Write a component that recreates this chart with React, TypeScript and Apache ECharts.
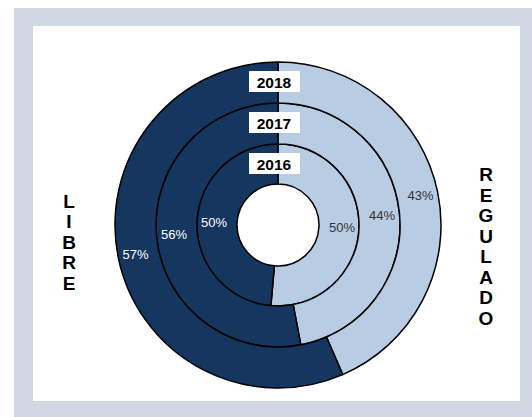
import React, { useEffect, useRef } from "react";
import * as echarts from "echarts";

const years = ["2016", "2017", "2018"];
const categories = ["REGULADO", "LIBRE"];
// drawn shares
const reguladoShare = [51.4, 47, 43.5];
const libreShare = [48.6, 53, 56.5];
// printed labels
const reguladoLabels = ["50%", "44%", "43%"];
const libreLabels = ["50%", "56%", "57%"];

const DARK = "#15365e";
const LIGHT = "#b8cce4";
const FRAME = "#d0d8e4";

const radii: [number, number][] = [
  [41, 81],
  [81, 122],
  [122, 163],
];

export default function App() {
  const ref = useRef<HTMLDivElement>(null);
  useEffect(() => {
    if (!ref.current) return;
    const chart = echarts.init(ref.current, null, { renderer: "svg" });
    const cx = 278;
    const cy = 225;
    const series = years.map((y, i) => ({
      type: "pie",
      name: y,
      center: [cx, cy],
      radius: radii[i],
      startAngle: 90,
      clockwise: true,
      silent: true,
      avoidLabelOverlap: false,
      label: {
        show: true,
        position: "inside",
        fontFamily: "Liberation Sans, Arial, sans-serif",
        fontSize: 13,
        formatter: (p: any) =>
          p.dataIndex === 0 ? reguladoLabels[i] : libreLabels[i],
      },
      labelLine: { show: false },
      itemStyle: { borderColor: "#000", borderWidth: 1.5 },
      data: [
        {
          name: categories[0],
          value: reguladoShare[i],
          itemStyle: { color: LIGHT },
          label: { color: "#333" },
        },
        {
          name: categories[1],
          value: libreShare[i],
          itemStyle: { color: DARK },
          label: { color: "#fff" },
        },
      ],
    }));
    const boxY = [163.5, 122.5, 81.5];
    const yearGraphics = years.flatMap((y, i) => [
      {
        type: "rect",
        z: 100,
        shape: { x: 249, y: boxY[i] - 10.5, width: 51, height: 21 },
        style: { fill: "#fff" },
      },
      {
        type: "text",
        z: 101,
        style: {
          text: y,
          x: 274,
          y: boxY[i] + 0.5,
          textAlign: "center",
          textVerticalAlign: "middle",
          fill: "#000",
          font: "bold 15.5px 'Liberation Sans', Arial, sans-serif",
        },
      },
    ]);
    chart.setOption({
      animation: false,
      graphic: [
        {
          type: "rect",
          z: -10,
          shape: { x: 14, y: 8, width: 518, height: 409 },
          style: { fill: FRAME },
        },
        {
          type: "rect",
          z: -9,
          shape: { x: 33, y: 26, width: 487, height: 375 },
          style: { fill: "#fff" },
        },
        {
          type: "text",
          z: 10,
          style: {
            text: categories[1].split("").join("\n"),
            x: 69,
            y: 242,
            textAlign: "center",
            textVerticalAlign: "middle",
            lineHeight: 20.5,
            fill: "#000",
            font: "bold 19px 'Liberation Sans', Arial, sans-serif",
          },
        },
        {
          type: "text",
          z: 10,
          style: {
            text: categories[0].split("").join("\n"),
            x: 486,
            y: 246.5,
            textAlign: "center",
            textVerticalAlign: "middle",
            lineHeight: 20.5,
            fill: "#000",
            font: "bold 19px 'Liberation Sans', Arial, sans-serif",
          },
        },
        ...yearGraphics,
      ],
      series,
    });
    return () => chart.dispose();
  }, []);
  return (
    <div
      ref={ref}
      style={{ position: "absolute", left: 0, top: 0, width: 532, height: 417 }}
    />
  );
}
